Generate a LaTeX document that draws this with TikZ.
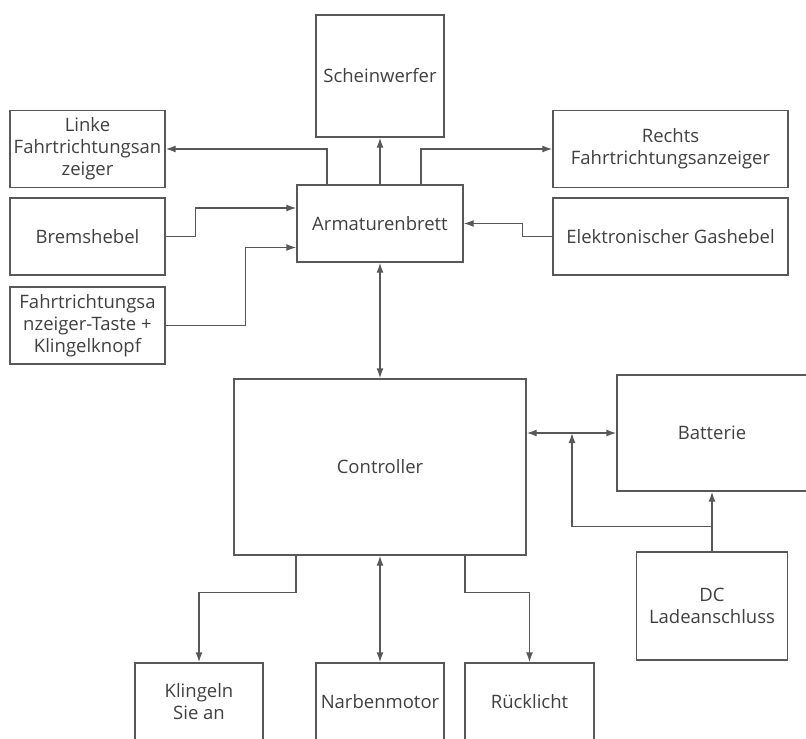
\documentclass[tikz,border=0pt]{standalone}
\usepackage{fontspec}
\setmainfont{Open Sans}
\usetikzlibrary{positioning,arrows.meta}
\definecolor{linegrey}{HTML}{58585A}
\definecolor{textgrey}{HTML}{404042}

\tikzset{
  block/.style={draw=linegrey, line width=1.4pt, text=textgrey, align=center,
    inner sep=1pt, font=\fontsize{18.5}{22}\selectfont},
  conn/.style={draw=linegrey, line width=1.4pt, -{Latex[length=10pt,width=7pt]}},
  biconn/.style={conn, {Latex[length=10pt,width=7pt]}-{Latex[length=10pt,width=7pt]}}
}

\begin{document}
\begin{tikzpicture}[x=1pt, y=-1pt]
  \useasboundingbox (0,0) rectangle (806,739);
  \clip (0,0) rectangle (806,739);
  % top row
  \node[block, minimum width=128pt, minimum height=122pt] (schein) at (380,76) {Scheinwerfer};
  \node[block, minimum width=155pt, minimum height=77pt] (linke) at (87.5,149) {Linke\\Fahrtrichtungsan\\zeiger};
  \node[block, minimum width=235pt, minimum height=77pt] (rechts) at (670.5,149) {Rechts\\Fahrtrichtungsanzeiger};
  \node[block, minimum width=166pt, minimum height=77pt] (armatur) at (380,223.5) {Armaturenbrett};
  \node[block, minimum width=155pt, minimum height=77pt] (brems) at (87.5,236.5) {Bremshebel};
  \node[block, minimum width=235pt, minimum height=77pt] (gas) at (670.5,236.5) {Elektronischer Gashebel};
  \node[block, minimum width=155pt, minimum height=77pt] (taste) at (87.5,325.5) {Fahrtrichtungsa\\nzeiger-Taste +\\Klingelknopf};
  % middle
  \node[block, minimum width=292pt, minimum height=176pt] (ctrl) at (380,467) {Controller};
  \node[block, minimum width=190pt, minimum height=116pt] (batt) at (712,433) {Batterie};
  \node[block, minimum width=151pt, minimum height=108pt] (dc) at (712,606) {DC\\Ladeanschluss};
  % bottom row
  \node[block, minimum width=128pt, minimum height=77pt] (klingel) at (199,701.5) {Klingeln\\Sie an};
  \node[block, minimum width=128pt, minimum height=77pt] (motor) at (380,701.5) {Narbenmotor};
  \node[block, minimum width=129pt, minimum height=77pt] (rueck) at (529.5,701.5) {Rücklicht};
  \coordinate (junct) at (572,433);

  % connectors
  \draw[conn] (armatur.north) -- (schein.south);
  \draw[conn] ([xshift=-53pt]armatur.north) |- (linke.east);
  \draw[conn] ([xshift=41pt]armatur.north) |- (rechts.west);
  \draw[conn] (brems.east) -- ++(30,0) |- ([yshift=15.5pt]armatur.west);
  \draw[conn] (taste.east) -- ++(80,0) |- ([yshift=-24pt]armatur.west);
  \draw[conn] (gas.west) -- ++(-30,0) |- (armatur.east);
  \draw[biconn] (armatur.south) -- (ctrl.north);
  \draw[biconn] (ctrl.east |- batt.west) -- (batt.west);
  \draw[conn] (dc.north) -- (batt.south);
  \draw[conn] ([yshift=25pt]dc.north) -| (junct);
  \draw[conn] ([xshift=-84pt]ctrl.south) -- ++(0,37) -| (klingel.north);
  \draw[biconn] (ctrl.south) -- (motor.north);
  \draw[conn] ([xshift=85pt]ctrl.south) -- ++(0,37) -| (rueck.north);
\end{tikzpicture}
\end{document}
